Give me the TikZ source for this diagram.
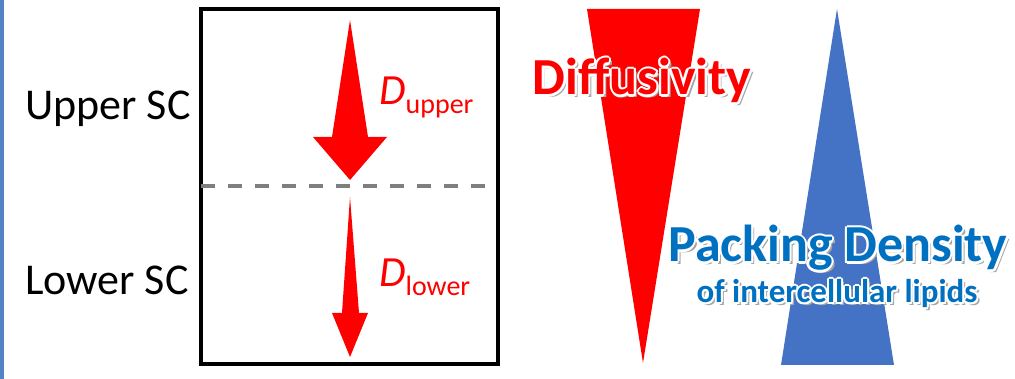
\documentclass[tikz,border=0pt]{standalone}
\usepackage{fontspec}
\setmainfont{Carlito}
\usetikzlibrary{calc}
\definecolor{sc-red}{RGB}{255,0,0}
\definecolor{sc-blue}{RGB}{68,114,196}
\definecolor{sc-text}{RGB}{0,112,192}
\definecolor{sc-edge}{RGB}{84,130,196}
\definecolor{sc-dash}{RGB}{127,127,127}

\begin{document}
\begin{tikzpicture}[x=1pt, y=-1pt,
  sclabel/.style={font=\fontsize{44}{44}\selectfont, inner sep=0pt, anchor=base west},
  coef/.style={font=\fontsize{43}{43}\selectfont, text=sc-red, inner sep=0pt, anchor=base west},
  bigword/.style={font=\bfseries\fontsize{52}{52}\selectfont, inner sep=0pt, anchor=base},
  smallword/.style={font=\bfseries\fontsize{33}{33}\selectfont, inner sep=0pt, anchor=base},
  drop/.style={text=black!35},
  rim/.style={text=white},
]
  \useasboundingbox (0,0) rectangle (1015,379);
  \fill[sc-edge] (0,0) rectangle (4,379);

  % Skin layers
  \draw[line width=3.5pt] (201,9) rectangle (498,364);
  \draw[sc-dash, line width=3.5pt, dash pattern=on 14pt off 13pt] (201,186) -- (498,186);
  \node[sclabel] (upper) at (25,120) {Upper SC};
  \node[sclabel] (lower) at (25,295) {Lower SC};

  % Flux arrows
  \fill[sc-red] (350,20) -- (368,137) -- (387,137) -- (350,180) -- (313,137) -- (332,137) -- cycle;
  \fill[sc-red] (350,197) -- (359,313) -- (368,313) -- (350,357) -- (332,313) -- (342,313) -- cycle;
  \node[coef] (dup) at (379,105) {\itshape D\raisebox{-9pt}{\upshape\fontsize{28}{28}\selectfont upper}};
  \node[coef] (dlow) at (379,287) {\itshape D\raisebox{-9pt}{\upshape\fontsize{28}{28}\selectfont lower}};

  % Gradients
  \fill[sc-red] (587,9) -- (700,9) -- (643,363) -- cycle;
  \fill[sc-blue] (837,9) -- (894,365) -- (781,365) -- cycle;

  % Diffusivity
  \node[bigword, drop] (diffs) at (645,98) {Diffusivity};
  \foreach \a in {0,45,...,315}
    \node[bigword, rim] (diffr\a) at ($(642,95)+(\a:2.2)$) {Diffusivity};
  \node[bigword, text=sc-red] (diff) at (642,95) {Diffusivity};

  % Packing density
  \node[bigword, drop] (packs) at (841,265) {Packing Density};
  \node[smallword, drop] (lips) at (840,306) {of intercellular lipids};
  \foreach \a in {0,45,...,315} {
    \node[bigword, rim] (packr\a) at ($(838,262)+(\a:2.2)$) {Packing Density};
    \node[smallword, rim] (lipr\a) at ($(837,303)+(\a:2)$) {of intercellular lipids};
  }
  \node[bigword, text=sc-text] (pack) at (838,262) {Packing Density};
  \node[smallword, text=sc-text] (lip) at (837,303) {of intercellular lipids};
\end{tikzpicture}
\end{document}
